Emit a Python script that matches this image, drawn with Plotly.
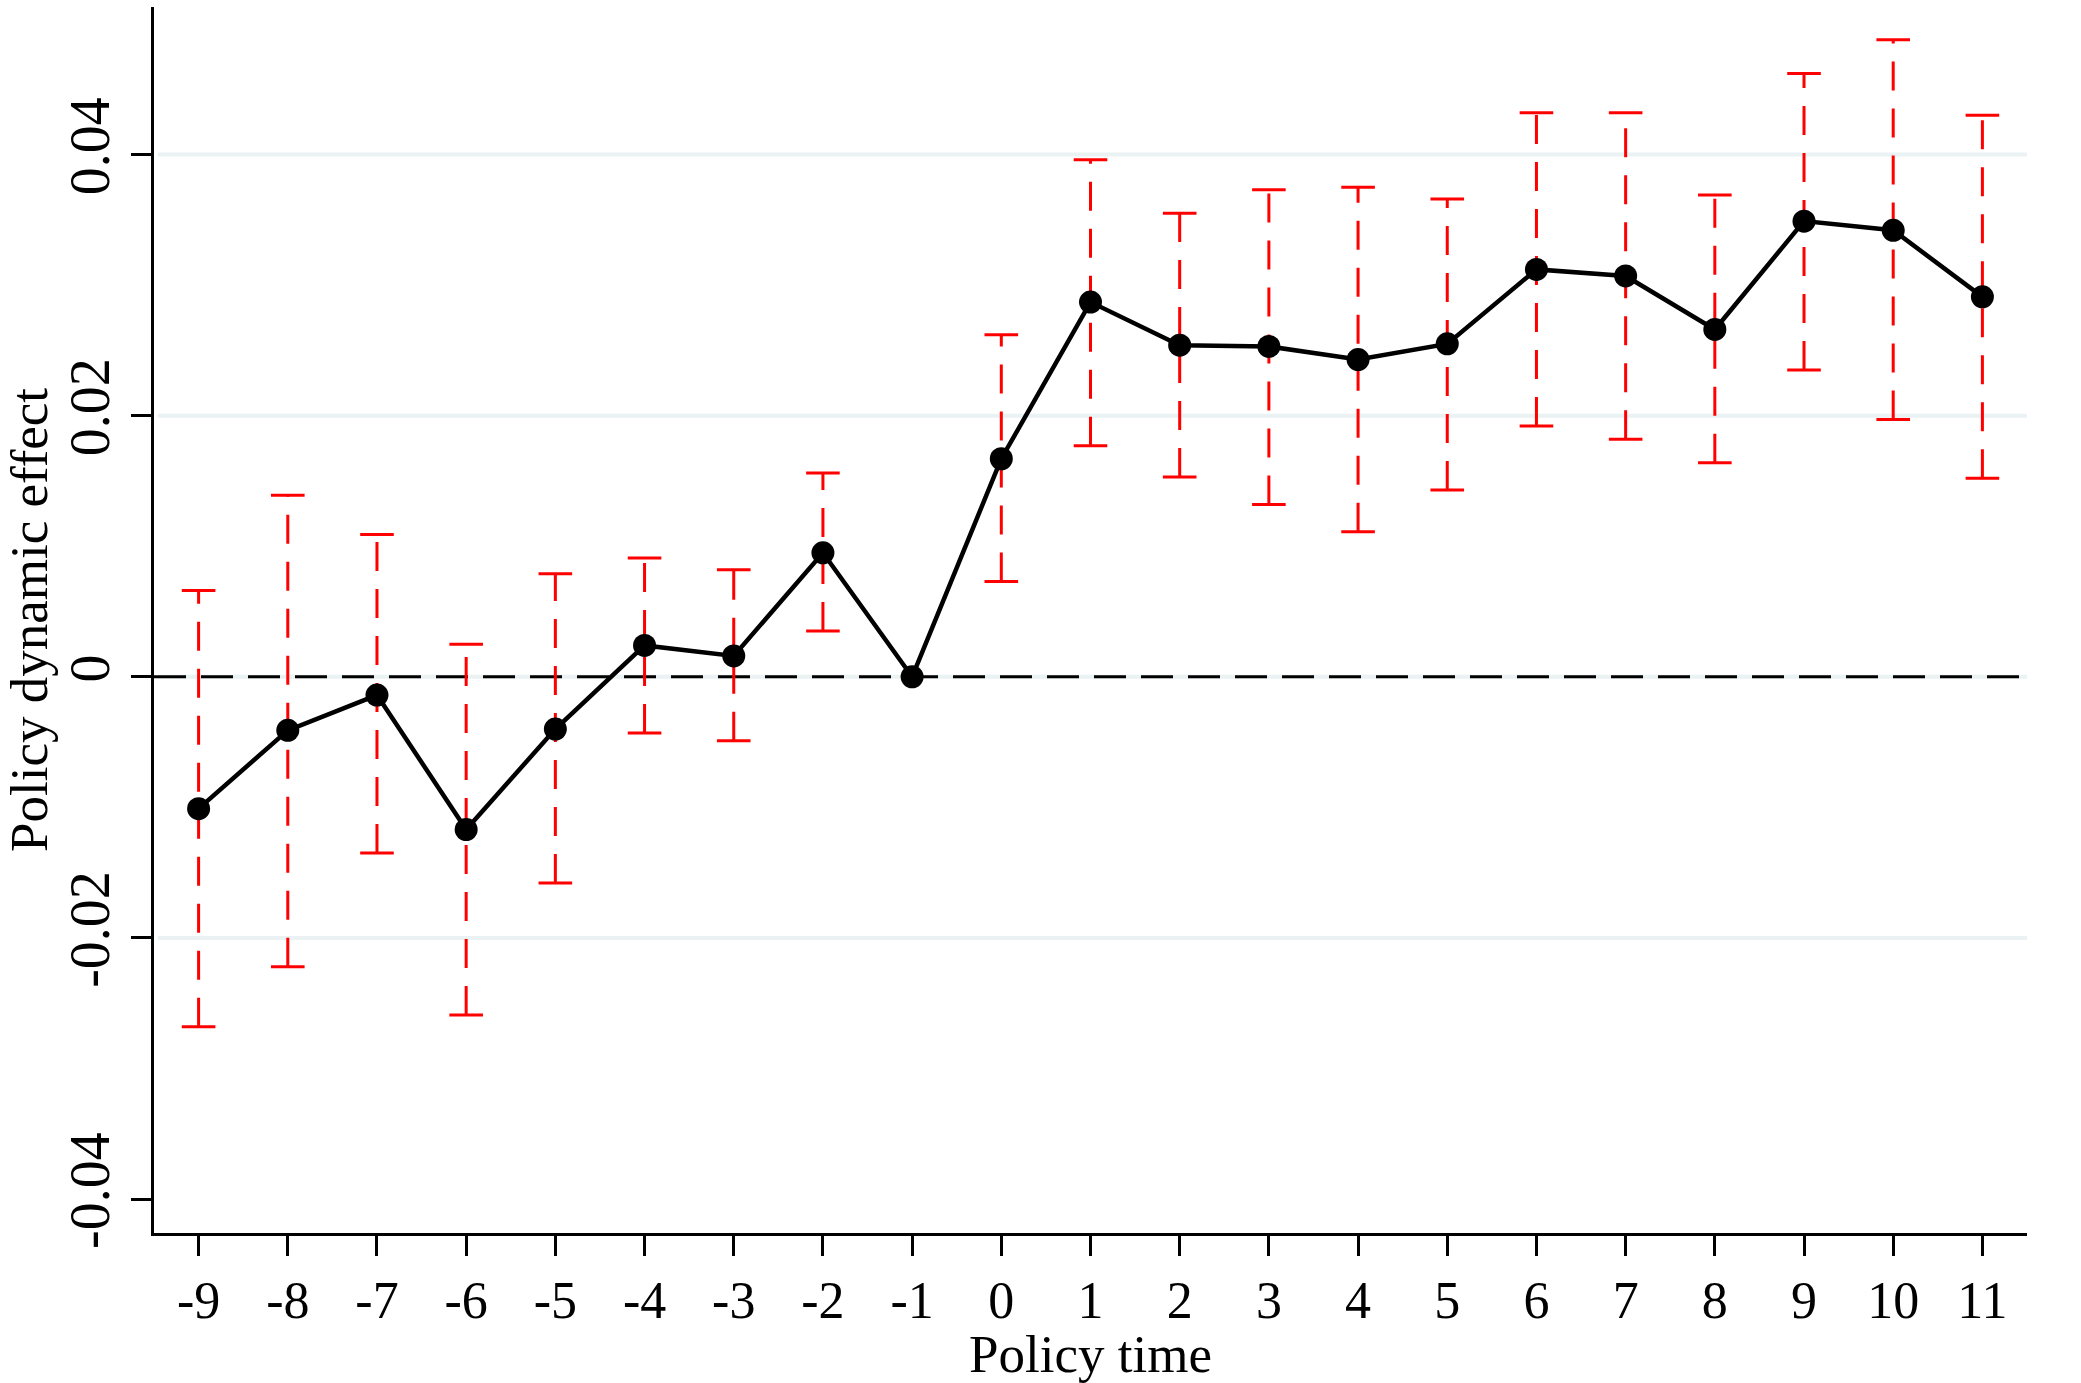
import plotly.graph_objects as go

# ---- data ----
policy_time = [-9, -8, -7, -6, -5, -4, -3, -2, -1, 0, 1, 2, 3, 4, 5, 6, 7, 8, 9, 10, 11]
effect = [-0.0101, -0.0041, -0.0014, -0.0117, -0.0040, 0.0024, 0.0016, 0.0095, 0.0,
          0.0167, 0.0287, 0.0254, 0.0253, 0.0243, 0.0255, 0.0312, 0.0307, 0.0266,
          0.0349, 0.0342, 0.0291]
ci_upper = [0.0066, 0.0139, 0.0109, 0.0025, 0.0079, 0.0091, 0.0082, 0.0156, None,
            0.0262, 0.0396, 0.0355, 0.0373, 0.0375, 0.0366, 0.0432, 0.0432, 0.0369,
            0.0462, 0.0488, 0.0430]
ci_lower = [-0.0268, -0.0222, -0.0135, -0.0259, -0.0158, -0.0043, -0.0049, 0.0035, None,
            0.0073, 0.0177, 0.0153, 0.0132, 0.0111, 0.0143, 0.0192, 0.0182, 0.0164,
            0.0235, 0.0197, 0.0152]
y_ticks = [-0.04, -0.02, 0, 0.02, 0.04]
y_tick_text = ["-0.04", "-0.02", "0", "0.02", "0.04"]
grid_values = [-0.02, 0, 0.02, 0.04]
reference_value = 0

FONT = "Liberation Serif, Times New Roman, serif"

# vertical dashed CI segments
seg_x, seg_y = [], []
cap_x, cap_y = [], []
for xv, lo, hi in zip(policy_time, ci_lower, ci_upper):
    if lo is None or hi is None:
        continue
    seg_x += [xv, xv, None]
    seg_y += [lo, hi, None]
    cap_x += [xv, xv]
    cap_y += [lo, hi]

fig = go.Figure()

fig.add_trace(go.Scatter(
    x=seg_x, y=seg_y, mode="lines",
    line=dict(color="#FF0000", width=3, dash="29px,18px"),
    hoverinfo="skip", showlegend=False,
))
fig.add_trace(go.Scatter(
    x=cap_x, y=cap_y, mode="markers",
    marker=dict(symbol="line-ew", size=24, line=dict(color="#FF0000", width=3)),
    hoverinfo="skip", showlegend=False,
))
fig.add_trace(go.Scatter(
    x=policy_time, y=effect, mode="lines+markers",
    line=dict(color="black", width=4.5),
    marker=dict(color="black", size=23),
    showlegend=False,
))

shapes = []
for g in grid_values:
    shapes.append(dict(type="line", xref="paper", yref="y", x0=0.002, x1=1, y0=g, y1=g,
                       line=dict(color="#EAF2F3", width=4), layer="below"))
shapes.append(dict(type="line", xref="paper", yref="y", x0=0, x1=1,
                   y0=reference_value, y1=reference_value,
                   line=dict(color="black", width=3, dash="32px,15px"), layer="between"))

fig.update_layout(
    width=2081, height=1383, autosize=False,
    margin=dict(l=154, r=54, t=7, b=150, pad=0),
    paper_bgcolor="white", plot_bgcolor="white",
    font=dict(family=FONT, color="black", size=52),
    shapes=shapes,
)

fig.update_xaxes(
    range=[-9.5, 11.5], automargin=False,
    tickmode="array", tickvals=policy_time, ticktext=[str(v) for v in policy_time],
    showgrid=False, zeroline=False,
    showline=True, linecolor="black", linewidth=3,
    ticks="outside", ticklen=20, tickwidth=3, tickcolor="black",
    tickfont=dict(family=FONT, size=52),
    title=dict(text="Policy time", font=dict(family=FONT, size=53), standoff=8),
)
fig.update_yaxes(
    range=[-0.0426, 0.0513], automargin=False,
    tickmode="array", tickvals=y_ticks, ticktext=y_tick_text,
    tickangle=-90,
    showgrid=False, zeroline=False,
    showline=True, linecolor="black", linewidth=3,
    ticks="outside", ticklen=20, tickwidth=3, tickcolor="black",
    tickfont=dict(family=FONT, size=56),
    title=dict(text="Policy dynamic effect", font=dict(family=FONT, size=53), standoff=18),
)

fig.write_html("out.html")
